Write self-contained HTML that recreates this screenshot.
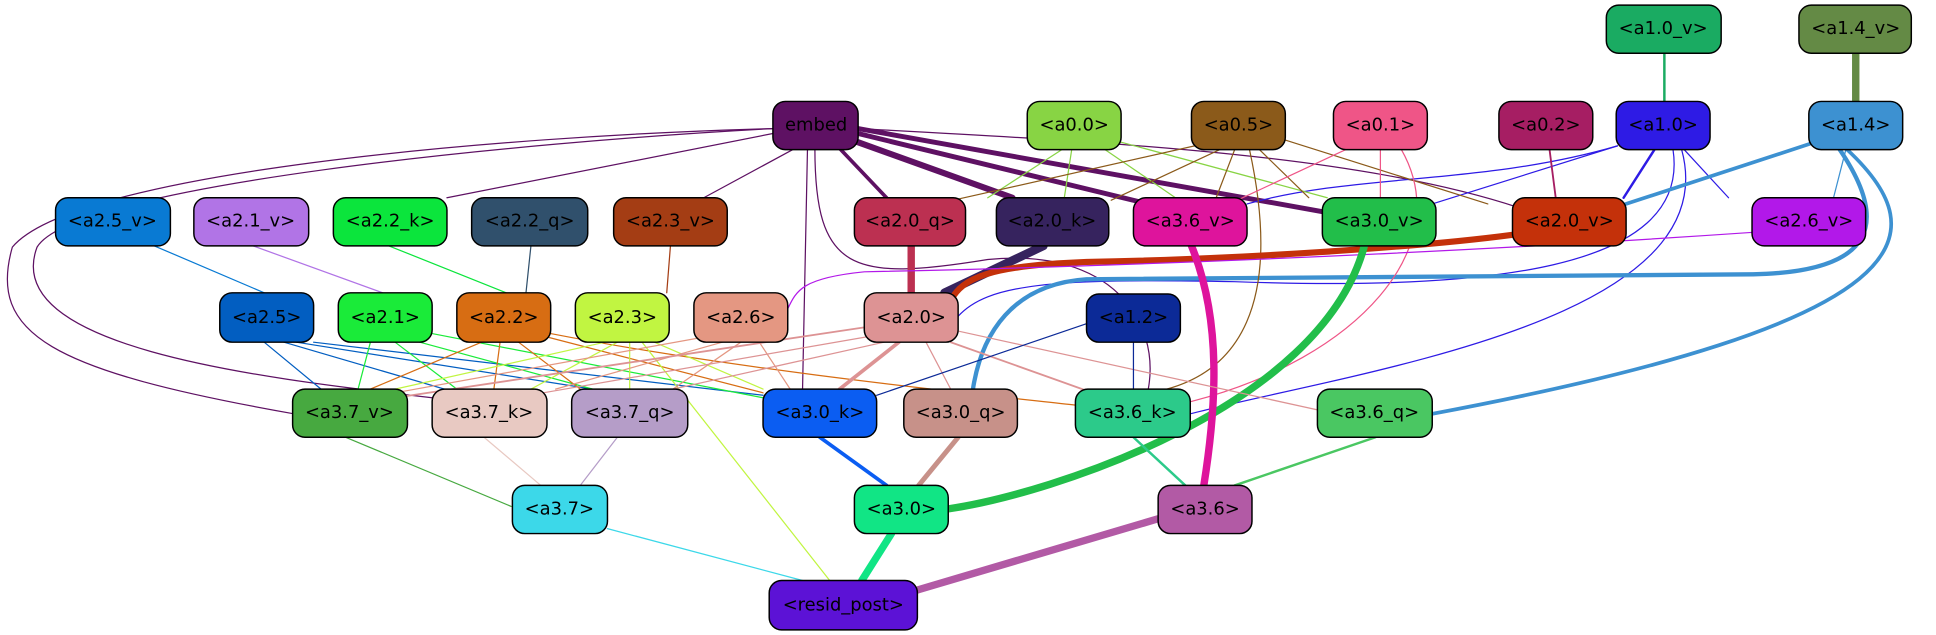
<!DOCTYPE html>
<html><head><meta charset="utf-8"><style>
html,body{margin:0;padding:0;background:#fff;width:1936px;height:635px;overflow:hidden}
svg{display:block}
text{font-family:"DejaVu Sans","Liberation Sans",sans-serif;font-size:14.5px;text-anchor:middle;dominant-baseline:central;fill:#000}
.n rect{stroke:#000;stroke-width:1.2}
path{fill:none}
</style></head><body>
<svg width="1936" height="635" viewBox="0 0 1568 514" xmlns="http://www.w3.org/2000/svg">
<g stroke-linecap="round">
<!-- embed edges -->
<path d="M626,104C400,110 60,140 10,200 -10,270 40,300 238,335" stroke="#5e1163" stroke-width="1"/>
<path d="M626,104C420,115 60,150 30,200 0,280 200,305 350,322" stroke="#5e1163" stroke-width="1"/>
<path d="M626,108L362,160" stroke="#5e1163" stroke-width="1"/>
<path d="M644,120L570,160" stroke="#5e1163" stroke-width="1"/>
<path d="M680,120L718,160" stroke="#5e1163" stroke-width="3"/>
<path d="M692,114L820,160" stroke="#5e1163" stroke-width="5"/>
<path d="M695,108L930,165" stroke="#5e1163" stroke-width="4"/>
<path d="M695,104L1075,172" stroke="#5e1163" stroke-width="4"/>
<path d="M695,104C900,115 1100,125 1230,168" stroke="#5e1163" stroke-width="1"/>
<path d="M654,120L650,315" stroke="#5e1163" stroke-width="1"/>
<path d="M660,120C660,220 690,228 800,210 900,200 940,260 930,315" stroke="#5e1163" stroke-width="1"/>
<!-- top -->
<path d="M1348,43L1348,82" stroke="#1aab62" stroke-width="2"/>
<path d="M1503,43L1503,82" stroke="#648a45" stroke-width="6"/>
<path d="M1340,121L1315,160" stroke="#2e1be5" stroke-width="2"/>
<path d="M1364,121L1400,160" stroke="#2e1be5" stroke-width="1"/>
<path d="M1310,118L1160,165" stroke="#2e1be5" stroke-width="1"/>
<path d="M1310,118C1200,150 1100,140 1010,165" stroke="#2e1be5" stroke-width="1"/>
<path d="M1355,121C1370,220 1200,235 1000,228 850,225 800,230 776,256" stroke="#2e1be5" stroke-width="1"/>
<path d="M1362,121C1400,260 1100,300 964,335" stroke="#2e1be5" stroke-width="1"/>
<path d="M1470,115L1317,165" stroke="#3d91d1" stroke-width="3"/>
<path d="M1495,121L1485,160" stroke="#3d91d1" stroke-width="1"/>
<path d="M1490,121C1530,180 1520,220 1420,222 L880,226 C820,230 795,270 788,315" stroke="#3d91d1" stroke-width="3.5"/>
<path d="M1496,121C1570,190 1560,260 1160,335" stroke="#3d91d1" stroke-width="3"/>
<path d="M860,121L800,160" stroke="#88d444" stroke-width="1"/>
<path d="M868,121L862,160" stroke="#88d444" stroke-width="1"/>
<path d="M895,121L952,160" stroke="#88d444" stroke-width="1"/>
<path d="M908,115L1075,160" stroke="#88d444" stroke-width="1"/>
<path d="M972,117L772,162" stroke="#8b5a1a" stroke-width="1"/>
<path d="M988,121L900,162" stroke="#8b5a1a" stroke-width="1"/>
<path d="M1000,121L985,160" stroke="#8b5a1a" stroke-width="1"/>
<path d="M1020,121L1060,160" stroke="#8b5a1a" stroke-width="1"/>
<path d="M1040,113L1205,165" stroke="#8b5a1a" stroke-width="1"/>
<path d="M1012,121C1040,250 1000,300 945,315" stroke="#8b5a1a" stroke-width="1"/>
<path d="M1118,121L1118,160" stroke="#ef5587" stroke-width="1"/>
<path d="M1090,121L1000,163" stroke="#ef5587" stroke-width="1"/>
<path d="M1135,121C1180,200 1100,290 965,325" stroke="#ef5587" stroke-width="1"/>
<path d="M1255,121L1260,160" stroke="#a61e63" stroke-width="1.5"/>
<!-- row2 to row3 -->
<path d="M125,199L214,237" stroke="#097ad3" stroke-width="1"/>
<path d="M205,199L310,237" stroke="#b174e6" stroke-width="1"/>
<path d="M315,199L410,237" stroke="#0be53c" stroke-width="1"/>
<path d="M430,199L426,237" stroke="#30506c" stroke-width="1"/>
<path d="M543,199L540,237" stroke="#a43d14" stroke-width="1"/>
<path d="M738,199L738,237" stroke="#bc3051" stroke-width="6"/>
<path d="M845,199L765,237" stroke="#36235e" stroke-width="7"/>
<path d="M1225,190C1150,200 1000,210 880,212 800,215 780,225 770,243" stroke="#c4310a" stroke-width="5"/>
<path d="M1420,188C1100,210 800,218 700,220 650,225 645,235 638,250" stroke="#b218e9" stroke-width="1"/>
<path d="M1105,199C1070,330 850,400 768,412" stroke="#22be4a" stroke-width="6"/>
<path d="M965,199C990,260 985,330 975,393" stroke="#de149c" stroke-width="6"/>
<!-- row3 to row4 -->
<path d="M214,277L260,315" stroke="#025ec1" stroke-width="1"/>
<path d="M230,277L360,315" stroke="#025ec1" stroke-width="1"/>
<path d="M240,277L480,315" stroke="#025ec1" stroke-width="1"/>
<path d="M254,277L618,320" stroke="#025ec1" stroke-width="1"/>
<path d="M300,277L290,315" stroke="#1aeb39" stroke-width="1"/>
<path d="M320,277L370,315" stroke="#1aeb39" stroke-width="1"/>
<path d="M340,277L480,315" stroke="#1aeb39" stroke-width="1"/>
<path d="M350,270L618,322" stroke="#1aeb39" stroke-width="1"/>
<path d="M390,277L300,315" stroke="#d76d13" stroke-width="1"/>
<path d="M405,277L400,315" stroke="#d76d13" stroke-width="1"/>
<path d="M420,277L470,315" stroke="#d76d13" stroke-width="1"/>
<path d="M440,272L618,318" stroke="#d76d13" stroke-width="1"/>
<path d="M446,270C600,300 800,320 871,328" stroke="#d76d13" stroke-width="1"/>
<path d="M490,277L320,315" stroke="#c1f541" stroke-width="1"/>
<path d="M500,277L430,315" stroke="#c1f541" stroke-width="1"/>
<path d="M510,277L510,315" stroke="#c1f541" stroke-width="1"/>
<path d="M530,277L618,315" stroke="#c1f541" stroke-width="1"/>
<path d="M520,277L672,470" stroke="#c1f541" stroke-width="1"/>
<path d="M575,272L320,318" stroke="#e49782" stroke-width="1"/>
<path d="M585,277L450,315" stroke="#e49782" stroke-width="1"/>
<path d="M600,277L545,315" stroke="#e49782" stroke-width="1"/>
<path d="M615,277L640,315" stroke="#e49782" stroke-width="1"/>
<path d="M700,265L320,322" stroke="#dd9394" stroke-width="1.5"/>
<path d="M706,272L440,318" stroke="#dd9394" stroke-width="1"/>
<path d="M716,277L545,315" stroke="#dd9394" stroke-width="1"/>
<path d="M728,277L680,315" stroke="#dd9394" stroke-width="3"/>
<path d="M750,277L770,315" stroke="#dd9394" stroke-width="1"/>
<path d="M770,277L885,318" stroke="#dd9394" stroke-width="1.5"/>
<path d="M776,268L1068,332" stroke="#dd9394" stroke-width="1"/>
<path d="M880,262L710,320" stroke="#0c2a97" stroke-width="1"/>
<path d="M918,277L918,315" stroke="#0c2a97" stroke-width="1"/>
<!-- row4 to row5 -->
<path d="M280,354L414,410" stroke="#47a940" stroke-width="1"/>
<path d="M392,354L438,393" stroke="#e8c9c2" stroke-width="1"/>
<path d="M500,354L470,393" stroke="#b59dc8" stroke-width="1"/>
<path d="M664,354L718,393" stroke="#0b5df2" stroke-width="3"/>
<path d="M776,354L744,393" stroke="#c79189" stroke-width="4"/>
<path d="M918,354L960,393" stroke="#2cca8a" stroke-width="2"/>
<path d="M1114,354L1000,393" stroke="#4ac762" stroke-width="2"/>
<path d="M492,428L650,470" stroke="#3cd8e9" stroke-width="1"/>
<path d="M722,432L698,470" stroke="#11e585" stroke-width="6"/>
<path d="M938,420L742,478" stroke="#b25aa5" stroke-width="6"/>
</g>
<g class="n">
<rect x="1301" y="4" width="93" height="39" rx="10" fill="#1aab62"/><text x="1347" y="23">&lt;a1.0_v&gt;</text>
<rect x="1457" y="4" width="91" height="39" rx="10" fill="#648a45"/><text x="1503" y="23">&lt;a1.4_v&gt;</text>
<rect x="626" y="82" width="69" height="39" rx="10" fill="#5e1163"/><text x="661" y="101">embed</text>
<rect x="832" y="82" width="76" height="39" rx="10" fill="#88d444"/><text x="870" y="101">&lt;a0.0&gt;</text>
<rect x="965" y="82" width="76" height="39" rx="10" fill="#8b5a1a"/><text x="1003" y="101">&lt;a0.5&gt;</text>
<rect x="1080" y="82" width="76" height="39" rx="10" fill="#ef5587"/><text x="1118" y="101">&lt;a0.1&gt;</text>
<rect x="1214" y="82" width="76" height="39" rx="10" fill="#a61e63"/><text x="1252" y="101">&lt;a0.2&gt;</text>
<rect x="1309" y="82" width="76" height="39" rx="10" fill="#2e1be5"/><text x="1347" y="101">&lt;a1.0&gt;</text>
<rect x="1465" y="82" width="76" height="39" rx="10" fill="#3d91d1"/><text x="1503" y="101">&lt;a1.4&gt;</text>
<rect x="45" y="160" width="93" height="39" rx="10" fill="#097ad3"/><text x="91" y="179">&lt;a2.5_v&gt;</text>
<rect x="157" y="160" width="93" height="39" rx="10" fill="#b174e6"/><text x="203" y="179">&lt;a2.1_v&gt;</text>
<rect x="270" y="160" width="92" height="39" rx="10" fill="#0be53c"/><text x="316" y="179">&lt;a2.2_k&gt;</text>
<rect x="382" y="160" width="94" height="39" rx="10" fill="#30506c"/><text x="429" y="179">&lt;a2.2_q&gt;</text>
<rect x="497" y="160" width="92" height="39" rx="10" fill="#a43d14"/><text x="543" y="179">&lt;a2.3_v&gt;</text>
<rect x="692" y="160" width="90" height="39" rx="10" fill="#bc3051"/><text x="737" y="179">&lt;a2.0_q&gt;</text>
<rect x="807" y="160" width="91" height="39" rx="10" fill="#36235e"/><text x="852" y="179">&lt;a2.0_k&gt;</text>
<rect x="918" y="160" width="92" height="39" rx="10" fill="#de149c"/><text x="964" y="179">&lt;a3.6_v&gt;</text>
<rect x="1071" y="160" width="92" height="39" rx="10" fill="#22be4a"/><text x="1117" y="179">&lt;a3.0_v&gt;</text>
<rect x="1225" y="160" width="92" height="39" rx="10" fill="#c4310a"/><text x="1271" y="179">&lt;a2.0_v&gt;</text>
<rect x="1419" y="160" width="92" height="39" rx="10" fill="#b218e9"/><text x="1465" y="179">&lt;a2.6_v&gt;</text>
<rect x="178" y="237" width="76" height="40" rx="10" fill="#025ec1"/><text x="216" y="257">&lt;a2.5&gt;</text>
<rect x="274" y="237" width="76" height="40" rx="10" fill="#1aeb39"/><text x="312" y="257">&lt;a2.1&gt;</text>
<rect x="370" y="237" width="76" height="40" rx="10" fill="#d76d13"/><text x="408" y="257">&lt;a2.2&gt;</text>
<rect x="466" y="237" width="76" height="40" rx="10" fill="#c1f541"/><text x="504" y="257">&lt;a2.3&gt;</text>
<rect x="562" y="237" width="76" height="40" rx="10" fill="#e49782"/><text x="600" y="257">&lt;a2.6&gt;</text>
<rect x="700" y="237" width="76" height="40" rx="10" fill="#dd9394"/><text x="738" y="257">&lt;a2.0&gt;</text>
<rect x="880" y="238" width="76" height="39" rx="10" fill="#0c2a97"/><text x="918" y="257">&lt;a1.2&gt;</text>
<rect x="237" y="315" width="93" height="39" rx="10" fill="#47a940"/><text x="283" y="334">&lt;a3.7_v&gt;</text>
<rect x="350" y="315" width="93" height="39" rx="10" fill="#e8c9c2"/><text x="396" y="334">&lt;a3.7_k&gt;</text>
<rect x="463" y="315" width="94" height="39" rx="10" fill="#b59dc8"/><text x="510" y="334">&lt;a3.7_q&gt;</text>
<rect x="618" y="315" width="92" height="39" rx="10" fill="#0b5df2"/><text x="664" y="334">&lt;a3.0_k&gt;</text>
<rect x="732" y="315" width="92" height="39" rx="10" fill="#c79189"/><text x="778" y="334">&lt;a3.0_q&gt;</text>
<rect x="871" y="315" width="93" height="39" rx="10" fill="#2cca8a"/><text x="917" y="334">&lt;a3.6_k&gt;</text>
<rect x="1067" y="315" width="93" height="39" rx="10" fill="#4ac762"/><text x="1113" y="334">&lt;a3.6_q&gt;</text>
<rect x="415" y="393" width="77" height="39" rx="10" fill="#3cd8e9"/><text x="453" y="412">&lt;a3.7&gt;</text>
<rect x="692" y="393" width="76" height="39" rx="10" fill="#11e585"/><text x="730" y="412">&lt;a3.0&gt;</text>
<rect x="938" y="393" width="76" height="39" rx="10" fill="#b25aa5"/><text x="976" y="412">&lt;a3.6&gt;</text>
<rect x="623" y="470" width="120" height="40" rx="10" fill="#5c12d6"/><text x="683" y="490">&lt;resid_post&gt;</text>
</g>
</svg>
</body></html>
